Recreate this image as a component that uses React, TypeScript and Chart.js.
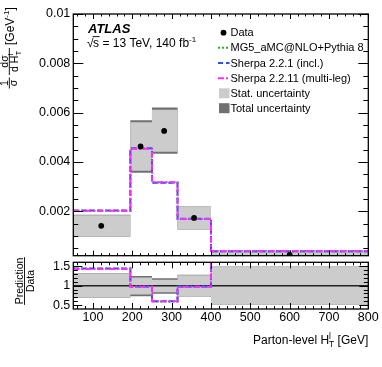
import React, { useEffect, useRef } from "react";
import { Chart, registerables } from "chart.js";

Chart.register(...registerables);

const FONT = '"Liberation Sans", Arial, Helvetica, sans-serif';

// Bin edges of parton-level H_T^l [GeV]
const binEdges = [50, 195, 250, 315, 400, 800];

// Data points
const dataX = [121, 221, 281, 357, 600];
const dataY = [0.00141, 0.00463, 0.00526, 0.00173, 0.00023];

// Predictions per bin (normalised cross-section)
const mg5Pred = [0.00202, 0.00455, 0.00317, 0.00169, 0.00038];
const sherpa221Pred = [0.00203, 0.00456, 0.00316, 0.0017, 0.00038];
const sherpa2211Pred = [0.00202, 0.00454, 0.00318, 0.00169, 0.00039];

// Uncertainty bands (upper / lower edges)
const statUp = [0.00184, 0.00561, 0.00612, 0.00218, 0.00032];
const statDown = [0.001, 0.00364, 0.00441, 0.00127, 0.00012];
const totalUp = [0.00186, 0.00569, 0.00621, 0.00219, 0.00033];
const totalDown = [0.00098, 0.00356, 0.00433, 0.00126, 0.00011];

// Ratio panel (Prediction / Data)
const ratioMg5 = [1.44, 0.97, 0.59, 0.97, 1.7];
const ratioSherpa221 = [1.44, 0.98, 0.6, 0.98, 1.71];
const ratioSherpa2211 = [1.43, 0.97, 0.6, 0.97, 1.73];
const ratioStatUp = [1.31, 1.21, 1.15, 1.27, 1.49];
const ratioStatDown = [0.69, 0.77, 0.83, 0.73, 0.51];
const ratioTotalUp = [1.32, 1.25, 1.19, 1.28, 1.49];
const ratioTotalDown = [0.68, 0.73, 0.79, 0.72, 0.51];
const ratioReference = [1, 1, 1, 1, 1];

// Tick labels
const mainYTicks = [0.002, 0.004, 0.006, 0.008, 0.01];
const ratioYTicks = [0.5, 1, 1.5];
const xTicks = [100, 200, 300, 400, 500, 600, 700, 800];

const COL_MG5 = "#2fae2f";
const COL_SH221 = "#2f4cff";
const COL_SH2211 = "#ff2bff";
const COL_STAT = "#cccccc";
const COL_TOTAL = "#707070";
const DASH_MG5 = [2, 2];
const DASH_SH221 = [5, 3];
const DASH_SH2211 = [6, 2, 2, 2];

const steps = (vals: number[]) =>
  binEdges.map((e, i) => ({ x: e, y: vals[Math.min(i, vals.length - 1)] }));

type Seg = { t: string; size: number; dy?: number; font?: string; noAdv?: boolean };

function segWidth(ctx: CanvasRenderingContext2D, segs: Seg[]) {
  let w = 0;
  for (const s of segs) {
    ctx.font = `${s.font ?? ""} ${s.size}px ${FONT}`;
    if (!s.noAdv) w += ctx.measureText(s.t).width;
  }
  return w;
}

function drawSegs(ctx: CanvasRenderingContext2D, segs: Seg[], x: number, y: number) {
  let cx = x;
  ctx.textAlign = "left";
  for (const s of segs) {
    ctx.font = `${s.font ?? ""} ${s.size}px ${FONT}`;
    ctx.fillText(s.t, cx, y + (s.dy ?? 0));
    if (!s.noAdv) cx += ctx.measureText(s.t).width;
  }
  return cx;
}

type TickCfg = {
  xMajor: number[];
  xMinor: number[];
  yMajor: number[];
  yMinor: number[];
  xMajLen: number;
  xMinLen: number;
  yMajLen: number;
  yMinLen: number;
};

function framePlugin(o: TickCfg) {
  return {
    id: "frameTicks",
    afterDatasetsDraw(chart: any) {
      const { ctx, chartArea: a } = chart;
      const xs = chart.scales.x;
      const ys = chart.scales.y;
      ctx.save();
      ctx.strokeStyle = "#000";
      ctx.lineWidth = 1;
      ctx.beginPath();
      const tx = (v: number, len: number) => {
        const p = Math.round(xs.getPixelForValue(v)) + 0.5;
        ctx.moveTo(p, a.bottom);
        ctx.lineTo(p, a.bottom - len);
        ctx.moveTo(p, a.top);
        ctx.lineTo(p, a.top + len);
      };
      const ty = (v: number, len: number) => {
        const p = Math.round(ys.getPixelForValue(v)) + 0.5;
        ctx.moveTo(a.left, p);
        ctx.lineTo(a.left + len, p);
        ctx.moveTo(a.right, p);
        ctx.lineTo(a.right - len, p);
      };
      o.xMajor.forEach((v) => tx(v, o.xMajLen));
      o.xMinor.forEach((v) => tx(v, o.xMinLen));
      o.yMajor.forEach((v) => ty(v, o.yMajLen));
      o.yMinor.forEach((v) => ty(v, o.yMinLen));
      ctx.stroke();
      ctx.lineWidth = 1.3;
      ctx.strokeRect(a.left, a.top, a.right - a.left, a.bottom - a.top);
      ctx.restore();
    },
  };
}

const xMinorTicks: number[] = [];
for (let v = 60; v < 800; v += 20) if (v % 100 !== 0) xMinorTicks.push(v);
const mainYMinor: number[] = [];
for (let k = 1; k < 20; k++) if (k % 4 !== 0) mainYMinor.push(k * 0.0005);
const ratioYMinor: number[] = [];
for (let k = 5; k < 16; k++) if (k % 5 !== 0) ratioYMinor.push(k * 0.1);

const mainTextPlugin = {
  id: "mainText",
  afterDraw(chart: any) {
    const ctx: CanvasRenderingContext2D = chart.ctx;
    ctx.save();
    ctx.fillStyle = "#000";
    ctx.textBaseline = "alphabetic";
    // ATLAS label
    ctx.font = `italic bold 13px ${FONT}`;
    ctx.textAlign = "left";
    ctx.fillText("ATLAS", 88, 33);
    // sqrt(s) line
    ctx.font = `12px ${FONT}`;
    ctx.fillText("\u221A", 87, 46.5);
    const wr = ctx.measureText("\u221A").width;
    const sx = 87 + wr - 0.5;
    ctx.fillText("s", sx, 46.5);
    const ws = ctx.measureText("s").width;
    ctx.fillRect(sx - 0.5, 36.2, ws + 1, 0.9);
    drawSegs(
      ctx,
      [
        { t: " = 13 TeV, 140 fb", size: 12 },
        { t: "-1", size: 8, dy: -5 },
      ],
      sx + ws,
      46.5
    );

    // Legend
    const lx0 = 218;
    const lx1 = 229.5;
    const tx = 230.5;
    const ys = [32.7, 47.8, 63.1, 78.3, 93.3, 108.2];
    const labels = [
      "Data",
      "MG5_aMC@NLO+Pythia 8",
      "Sherpa 2.2.1 (incl.)",
      "Sherpa 2.2.11 (multi-leg)",
      "Stat. uncertainty",
      "Total uncertainty",
    ];
    ctx.beginPath();
    ctx.arc(223.5, ys[0], 2.9, 0, Math.PI * 2);
    ctx.fill();
    const lines: [string, number[]][] = [
      [COL_MG5, DASH_MG5],
      [COL_SH221, DASH_SH221],
      [COL_SH2211, DASH_SH2211],
    ];
    lines.forEach(([c, d], i) => {
      ctx.save();
      ctx.strokeStyle = c;
      ctx.lineWidth = 2;
      ctx.setLineDash(d);
      ctx.beginPath();
      ctx.moveTo(lx0, ys[i + 1]);
      ctx.lineTo(lx1, ys[i + 1]);
      ctx.stroke();
      ctx.restore();
    });
    ctx.fillStyle = COL_STAT;
    ctx.fillRect(219, ys[4] - 5, 10.5, 10);
    ctx.fillStyle = COL_TOTAL;
    ctx.fillRect(219, ys[5] - 5, 10.5, 10);
    ctx.fillStyle = "#000";
    ctx.font = `11px ${FONT}`;
    ctx.textBaseline = "middle";
    labels.forEach((l, i) => ctx.fillText(l, tx, ys[i] + 0.5));
    ctx.textBaseline = "alphabetic";

    // Y axis title (rotated)
    ctx.save();
    ctx.translate(9.3, 89);
    ctx.rotate(-Math.PI / 2);
    ctx.textAlign = "center";
    ctx.font = `10.5px ${FONT}`;
    ctx.fillText("1", 6, -1.8);
    ctx.fillText("\u03C3", 6, 7.4);
    ctx.fillRect(0.5, -0.45, 11, 0.9);
    const c2 = 27.5;
    ctx.fillText("d\u03C3", c2, -1.8);
    const den: Seg[] = [
      { t: "d H", size: 10.5 },
      { t: "l", size: 7.5, dy: -5.2, noAdv: true },
      { t: "T", size: 7.5, dy: 2.5 },
    ];
    const dw = segWidth(ctx, den);
    drawSegs(ctx, den, c2 - dw / 2, 8.8);
    ctx.fillRect(c2 - 13.5, -0.45, 27, 0.9);
    drawSegs(
      ctx,
      [
        { t: "[GeV", size: 12 },
        { t: "-1", size: 8, dy: -4.8 },
        { t: "]", size: 12 },
      ],
      44,
      4.6
    );
    ctx.restore();
    ctx.restore();
  },
};

const ratioTextPlugin = {
  id: "ratioText",
  afterDraw(chart: any) {
    const ctx: CanvasRenderingContext2D = chart.ctx;
    ctx.save();
    ctx.fillStyle = "#000";
    ctx.textBaseline = "alphabetic";
    // x-axis title
    const xt: Seg[] = [
      { t: "Parton-level H", size: 12 },
      { t: "l", size: 8.5, dy: -5.5, noAdv: true },
      { t: "T", size: 8.5, dy: 3 },
      { t: " [GeV]", size: 12 },
    ];
    const w = segWidth(ctx, xt);
    drawSegs(ctx, xt, 368.3 - w, 344);

    // ratio y title
    ctx.save();
    ctx.translate(24.5, 281);
    ctx.rotate(-Math.PI / 2);
    ctx.textAlign = "center";
    ctx.font = `10.5px ${FONT}`;
    const pw = ctx.measureText("Prediction").width;
    ctx.fillText("Prediction", 0, -1.8);
    ctx.fillText("Data", 0, 9.2);
    ctx.fillRect(-pw / 2 - 0.5, -0.45, pw + 1, 0.9);
    ctx.restore();
    ctx.restore();
  },
};

const band = (vals: number[], order: number, fill: any, color: string) => ({
  data: steps(vals),
  stepped: true,
  borderWidth: 0,
  borderColor: "rgba(0,0,0,0)",
  pointRadius: 0,
  fill,
  backgroundColor: color,
  order,
});

const predLine = (vals: number[], color: string, dash: number[], order: number) => ({
  data: steps(vals),
  stepped: true,
  borderWidth: 2,
  borderColor: color,
  borderDash: dash,
  borderCapStyle: "butt",
  pointRadius: 0,
  fill: false,
  order,
});

const tickFont = { family: FONT, size: 12.5 };

function mainConfig(): any {
  return {
    type: "line",
    data: {
      datasets: [
        band(totalUp, 21, false, COL_TOTAL),
        band(totalDown, 20, "-1", COL_TOTAL),
        band(statUp, 19, false, COL_STAT),
        band(statDown, 18, "-1", COL_STAT),
        predLine(mg5Pred, COL_MG5, DASH_MG5, 7),
        predLine(sherpa221Pred, COL_SH221, DASH_SH221, 6),
        predLine(sherpa2211Pred, COL_SH2211, DASH_SH2211, 5),
        {
          data: dataX.map((x, i) => ({ x, y: dataY[i] })),
          showLine: false,
          pointRadius: 2.9,
          pointBorderWidth: 0,
          pointBackgroundColor: "#000",
          order: 1,
          clip: 0,
        },
      ],
    },
    options: {
      animation: false,
      responsive: false,
      events: [],
      layout: { padding: { left: 0, top: 14, right: 13.7, bottom: 0 } },
      plugins: { legend: { display: false }, tooltip: { enabled: false } },
      scales: {
        x: {
          type: "linear",
          min: 50,
          max: 800,
          grid: { display: false },
          border: { display: false },
          ticks: { display: false },
          afterFit: (s: any) => {
            s.height = 111.3;
          },
        },
        y: {
          type: "linear",
          min: 0.0002,
          max: 0.01,
          grid: { display: false, drawTicks: false },
          border: { display: false },
          afterBuildTicks: (s: any) => {
            s.ticks = mainYTicks.map((v) => ({ value: v }));
          },
          ticks: {
            padding: 3,
            color: "#000",
            font: tickFont,
            callback: (v: number) => (v >= 0.0099 ? "0.01" : v.toFixed(3)),
          },
          afterFit: (s: any) => {
            s.width = 73.3;
          },
        },
      },
    },
    plugins: [
      framePlugin({
        xMajor: xTicks,
        xMinor: xMinorTicks,
        yMajor: mainYTicks,
        yMinor: mainYMinor,
        xMajLen: 5,
        xMinLen: 2.5,
        yMajLen: 10,
        yMinLen: 5,
      }),
      mainTextPlugin,
    ],
  };
}

function ratioConfig(): any {
  return {
    type: "line",
    data: {
      datasets: [
        band(ratioTotalUp, 21, false, COL_TOTAL),
        band(ratioTotalDown, 20, "-1", COL_TOTAL),
        band(ratioStatUp, 19, false, COL_STAT),
        band(ratioStatDown, 18, "-1", COL_STAT),
        {
          data: steps(ratioReference),
          stepped: true,
          borderWidth: 1.5,
          borderColor: "#222",
          pointRadius: 0,
          fill: false,
          order: 9,
        },
        predLine(ratioMg5, COL_MG5, DASH_MG5, 7),
        predLine(ratioSherpa221, COL_SH221, DASH_SH221, 6),
        predLine(ratioSherpa2211, COL_SH2211, DASH_SH2211, 5),
      ],
    },
    options: {
      animation: false,
      responsive: false,
      events: [],
      layout: { padding: { left: 0, top: 262.3, right: 13.7, bottom: 0 } },
      plugins: { legend: { display: false }, tooltip: { enabled: false } },
      scales: {
        x: {
          type: "linear",
          min: 50,
          max: 800,
          grid: { display: false, drawTicks: false },
          border: { display: false },
          afterBuildTicks: (s: any) => {
            s.ticks = xTicks.map((v) => ({ value: v }));
          },
          ticks: {
            padding: 1.5,
            color: "#000",
            font: tickFont,
            autoSkip: false,
            maxRotation: 0,
            callback: (v: number) => String(v),
          },
          afterFit: (s: any) => {
            s.height = 58;
          },
        },
        y: {
          type: "linear",
          min: 0.4,
          max: 1.6,
          grid: { display: false, drawTicks: false },
          border: { display: false },
          afterBuildTicks: (s: any) => {
            s.ticks = ratioYTicks.map((v) => ({ value: v }));
          },
          ticks: {
            padding: 3,
            color: "#000",
            font: tickFont,
            callback: (v: number) => String(v),
          },
          afterFit: (s: any) => {
            s.width = 73.3;
          },
        },
      },
    },
    plugins: [
      framePlugin({
        xMajor: xTicks,
        xMinor: xMinorTicks,
        yMajor: ratioYTicks,
        yMinor: ratioYMinor,
        xMajLen: 6,
        xMinLen: 3,
        yMajLen: 9,
        yMinLen: 4.5,
      }),
      ratioTextPlugin,
    ],
  };
}

export default function App() {
  const mainRef = useRef<HTMLCanvasElement>(null);
  const ratioRef = useRef<HTMLCanvasElement>(null);
  useEffect(() => {
    const c1 = new Chart(mainRef.current as HTMLCanvasElement, mainConfig());
    const c2 = new Chart(ratioRef.current as HTMLCanvasElement, ratioConfig());
    return () => {
      c1.destroy();
      c2.destroy();
    };
  }, []);
  return (
    <div
      style={{
        position: "fixed",
        left: 0,
        top: 0,
        width: 382,
        height: 367,
        background: "#fff",
      }}
    >
      <canvas
        ref={mainRef}
        width={382}
        height={367}
        style={{ position: "absolute", left: 0, top: 0 }}
      />
      <canvas
        ref={ratioRef}
        width={382}
        height={367}
        style={{ position: "absolute", left: 0, top: 0 }}
      />
    </div>
  );
}
